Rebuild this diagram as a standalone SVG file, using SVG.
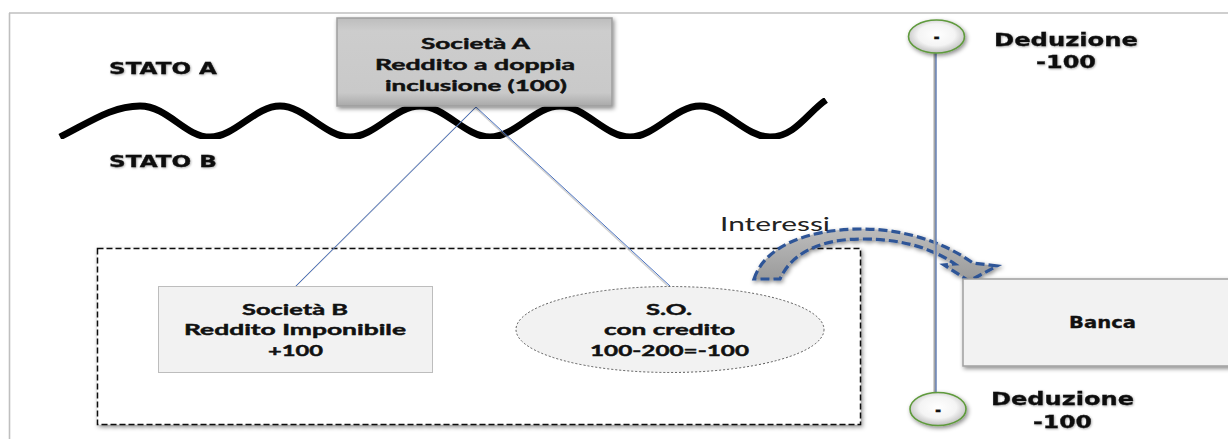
<svg xmlns="http://www.w3.org/2000/svg" width="1228" height="439" viewBox="0 0 1228 439">
<style>
.frame{fill:none;stroke:#bfbfbf;stroke-width:1.6}
.hv{font-family:"DejaVu Sans","Liberation Sans",sans-serif;font-weight:bold;fill:#111;stroke:#111;stroke-width:0.3}
.cb{font-family:Lato,"Liberation Sans",sans-serif;font-weight:bold;fill:#111;font-size:16px;stroke:#111;stroke-width:0.45}
.reg{font-family:Lato,"Liberation Sans",sans-serif;fill:#222;font-size:20px}
.conn{stroke:#4a72c0;stroke-width:1;fill:none}
.connsh{stroke:#9a9a9a;stroke-width:1.5;fill:none;opacity:0.45}
</style>
<defs>
<filter id="sh" x="-10%" y="-15%" width="125%" height="140%"><feDropShadow dx="1.5" dy="2" stdDeviation="2" flood-color="#000" flood-opacity="0.45"/></filter>
<filter id="tsh" x="-10%" y="-30%" width="120%" height="170%"><feDropShadow dx="0.8" dy="0.8" stdDeviation="1" flood-color="#000" flood-opacity="0.35"/></filter>
<filter id="blur1" x="-5%" y="-5%" width="110%" height="110%"><feGaussianBlur stdDeviation="0.4"/></filter>
<linearGradient id="gA" x1="0" y1="0" x2="0" y2="1"><stop offset="0" stop-color="#bdbdbd"/><stop offset="0.15" stop-color="#cdcdcd"/><stop offset="0.85" stop-color="#c9c9c9"/><stop offset="1" stop-color="#a9a9a9"/></linearGradient>
<radialGradient id="gC" cx="0.5" cy="0.45" r="0.6"><stop offset="0" stop-color="#ffffff"/><stop offset="0.55" stop-color="#f4f4f4"/><stop offset="1" stop-color="#b5b5b5"/></radialGradient>
<linearGradient id="gArr" x1="0" y1="0" x2="0" y2="1"><stop offset="0" stop-color="#bcbcbc"/><stop offset="1" stop-color="#9a9a9a"/></linearGradient>
</defs>

<g id="frame">
<line class="frame" x1="9" y1="13" x2="1228" y2="13"/>
<line class="frame" x1="9.5" y1="13" x2="9.5" y2="439"/>
</g>

<g id="wave">
<path d="M60,137 C90,122 112,106 140,106 S185,137 210,137 S255,106 280,106 S325,137 350,137 S395,106 420,106 S465,137 490,137 S535,106 560,106 S605,137 630,137 S675,106 700,106 S745,137 770,137 S808,112 826,100" fill="none" stroke="#000" stroke-width="6.8" stroke-linecap="butt" filter="url(#blur1)"/>
</g>

<g id="labels-stato">
<text class="hv" x="109" y="74" font-size="15" textLength="108" lengthAdjust="spacingAndGlyphs" filter="url(#tsh)">STATO A</text>
<text class="hv" x="109" y="167" font-size="15" textLength="108" lengthAdjust="spacingAndGlyphs" filter="url(#tsh)">STATO B</text>
</g>

<g id="container">
<rect x="97.5" y="248.5" width="763" height="176" fill="#fff" stroke="#111" stroke-width="1.5" stroke-dasharray="6 3" filter="url(#sh)"/>
</g>

<g id="connectors">
<line class="connsh" x1="475" y1="108" x2="295" y2="287"/>
<line class="connsh" x1="475.5" y1="108" x2="669" y2="287"/>
<line class="conn" x1="476" y1="107" x2="296" y2="286"/>
<line class="conn" x1="476" y1="107" x2="670" y2="286"/>
</g>

<g id="societa-a">
<rect x="337" y="18" width="275" height="88" fill="url(#gA)" stroke="#9e9e9e" stroke-width="1.5" filter="url(#sh)"/>
<text class="cb" x="421" y="49" textLength="109" lengthAdjust="spacingAndGlyphs">Società A</text>
<text class="cb" x="375" y="70" textLength="200" lengthAdjust="spacingAndGlyphs">Reddito a doppia</text>
<text class="cb" x="385" y="91" textLength="182" lengthAdjust="spacingAndGlyphs">inclusione (100)</text>
</g>

<g id="societa-b">
<rect x="158.5" y="286.5" width="274" height="86" fill="#f2f2f2" stroke="#bdbdbd" stroke-width="1"/>
<text class="cb" x="242" y="315" textLength="106" lengthAdjust="spacingAndGlyphs">Società B</text>
<text class="cb" x="184" y="335" textLength="222" lengthAdjust="spacingAndGlyphs">Reddito Imponibile</text>
<text class="cb" x="268" y="356" textLength="55" lengthAdjust="spacingAndGlyphs">+100</text>
</g>

<g id="so">
<ellipse cx="670" cy="329.5" rx="154" ry="43" fill="#f2f2f2" stroke="#333" stroke-width="0.8" stroke-dasharray="2 2"/>
<text class="cb" x="646" y="315" textLength="46" lengthAdjust="spacingAndGlyphs">S.O.</text>
<text class="cb" x="604" y="335" textLength="131" lengthAdjust="spacingAndGlyphs">con credito</text>
<text class="cb" x="590" y="356" textLength="159" lengthAdjust="spacingAndGlyphs">100-200=-100</text>
</g>

<g id="interessi">
<path d="M754,279 C765,245 810,229 862,229 C905,229 945,243 973,263 L997,266 L969,281 L944,265 L955,264 C930,247 900,239 862,239 C822,239 792,252 780,279 Z" fill="url(#gArr)" stroke="#2f5597" stroke-width="3.2" stroke-dasharray="9 4" stroke-linejoin="miter" filter="url(#sh)"/>
<text class="reg" x="720" y="231" textLength="110" lengthAdjust="spacingAndGlyphs">Interessi</text>
</g>

<g id="asse">
<line x1="935" y1="52" x2="935" y2="393" stroke="#a6a6a6" stroke-width="3"/>
<line x1="936" y1="52" x2="936" y2="393" stroke="#4a72c0" stroke-width="1"/>
</g>

<g id="meno-top">
<ellipse cx="936.5" cy="36.5" rx="28" ry="16.5" fill="url(#gC)" stroke="#5f9a3c" stroke-width="1.6" filter="url(#sh)"/>
<text class="hv" x="936.5" y="42" font-size="15" text-anchor="middle">-</text>
</g>

<g id="deduzione-top">
<text class="hv" x="994" y="46" font-size="18" textLength="144" lengthAdjust="spacingAndGlyphs" filter="url(#tsh)">Deduzione</text>
<text class="hv" x="1036" y="68" font-size="18" textLength="60" lengthAdjust="spacingAndGlyphs" filter="url(#tsh)">-100</text>
</g>

<g id="banca">
<rect x="963" y="279" width="275" height="87" fill="#f2f2f2" stroke="#a0a0a0" stroke-width="1.5" filter="url(#sh)"/>
<text class="hv" x="1069" y="328" font-size="15" textLength="67" lengthAdjust="spacingAndGlyphs">Banca</text>
</g>

<g id="meno-bottom">
<ellipse cx="938" cy="409" rx="28" ry="16.5" fill="url(#gC)" stroke="#5f9a3c" stroke-width="1.6" filter="url(#sh)"/>
<text class="hv" x="938" y="415" font-size="15" text-anchor="middle">-</text>
</g>

<g id="deduzione-bottom">
<text class="hv" x="991" y="405" font-size="18" textLength="143" lengthAdjust="spacingAndGlyphs" filter="url(#tsh)">Deduzione</text>
<text class="hv" x="1033" y="428" font-size="18" textLength="59" lengthAdjust="spacingAndGlyphs" filter="url(#tsh)">-100</text>
</g>
</svg>
